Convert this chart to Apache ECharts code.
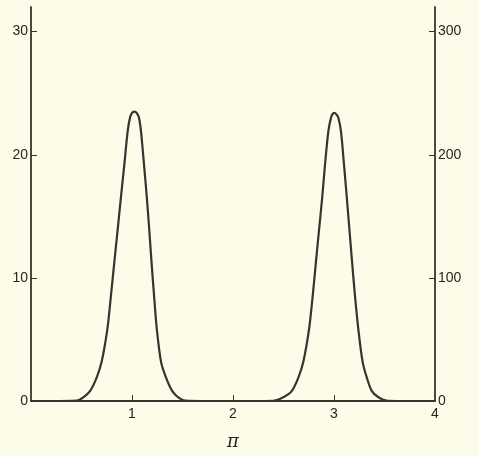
<!DOCTYPE html>
<html>
<head>
<meta charset="utf-8">
<script src="https://cdn.jsdelivr.net/npm/echarts@6/dist/echarts.min.js"></script>
<style>
  html, body { margin: 0; padding: 0; background: #fcfce9; }
  #chart { width: 479px; height: 456px; }
</style>
</head>
<body>
<div id="chart"></div>
<script>
// curve (x in units of pi, left-axis value)
const curveX = [
    0, 0.2, 0.452, 0.518, 0.584, 0.650, 0.700, 0.757, 0.792, 0.824, 0.858,
    0.891, 0.924, 0.957, 0.980, 1.0, 1.023, 1.046, 1.069, 1.089, 1.119,
    1.146, 1.171, 1.194, 1.218, 1.245, 1.287, 1.337, 1.399, 1.458, 1.525,
    1.75, 2.0, 2.2,
    2.40, 2.498, 2.581, 2.647, 2.697, 2.754, 2.79, 2.82, 2.852, 2.884, 2.911,
    2.944, 2.970, 2.985, 3.003, 3.022, 3.043, 3.069, 3.099, 3.126, 3.153,
    3.18, 3.207, 3.24, 3.283, 3.325, 3.375, 3.44, 3.53, 3.75, 4,
];
const curveY = [
    0, 0, 0.04, 0.3, 0.8, 1.9, 3.2, 5.9, 8.6, 11.2, 13.9,
    16.6, 19.2, 21.9, 23.0, 23.4, 23.5, 23.4, 23.0, 21.9, 19.2,
    16.6, 13.9, 11.2, 8.6, 5.9, 3.2, 1.9, 0.8, 0.3, 0.04,
    0, 0, 0,
    0.02, 0.3, 0.8, 1.9, 3.2, 5.9, 8.6, 11.2, 13.9, 16.6, 19.2,
    21.9, 23.0, 23.3, 23.4, 23.3, 23.0, 21.9, 19.2, 16.6, 13.9,
    11.2, 8.6, 5.9, 3.2, 1.9, 0.8, 0.3, 0.02, 0, 0,
];
const xTicks = [1, 2, 3, 4];
const leftTicks = [0, 10, 20, 30];
const rightTicks = [0, 100, 200, 300];

const ink = "#35352f";
const labelInk = "#262622";
const font = "Liberation Sans";

const chart = echarts.init(document.getElementById("chart"));
const data = curveX.map((x, i) => [x, curveY[i]]);

const option = {
    backgroundColor: "#fcfce9",
    animation: false,
    grid: { left: 31, right: 44, top: 7, bottom: 49 },
    xAxis: {
        type: "value",
        min: 0,
        max: 4,
        splitLine: { show: false },
        axisLine: { lineStyle: { color: ink, width: 1.8 } },
        axisTick: {
            inside: true,
            length: 6,
            customValues: [1, 2, 3],
            lineStyle: { color: ink },
        },
        axisLabel: {
            customValues: xTicks,
            color: labelInk,
            fontFamily: font,
            fontSize: 14,
            margin: 6,
        },
        name: "π",
        nameLocation: "middle",
        nameGap: 32,
        nameTextStyle: {
            color: labelInk,
            fontFamily: "DejaVu Serif",
            fontStyle: "italic",
            fontSize: 18,
        },
    },
    yAxis: [
        {
            type: "value",
            min: 0,
            max: 32,
            splitLine: { show: false },
            axisLine: { show: true, lineStyle: { color: ink, width: 1.8 } },
            axisTick: {
                inside: true,
                length: 6,
                customValues: [10, 20, 30],
                lineStyle: { color: ink },
            },
            axisLabel: {
                customValues: leftTicks,
                color: labelInk,
                fontFamily: font,
                fontSize: 14,
                margin: 3,
            },
        },
        {
            type: "value",
            position: "right",
            min: 0,
            max: 320,
            splitLine: { show: false },
            axisLine: { show: true, lineStyle: { color: ink, width: 1.8 } },
            axisTick: {
                inside: true,
                length: 6,
                customValues: [100, 200, 300],
                lineStyle: { color: ink },
            },
            axisLabel: {
                customValues: rightTicks,
                color: labelInk,
                fontFamily: font,
                fontSize: 14,
                margin: 3,
            },
        },
    ],
    series: [
        {
            type: "line",
            data: data,
            yAxisIndex: 0,
            smooth: 0.3,
            showSymbol: false,
            lineStyle: { color: ink, width: 2.2 },
        },
    ],
};
chart.setOption(option);
</script>
</body>
</html>
